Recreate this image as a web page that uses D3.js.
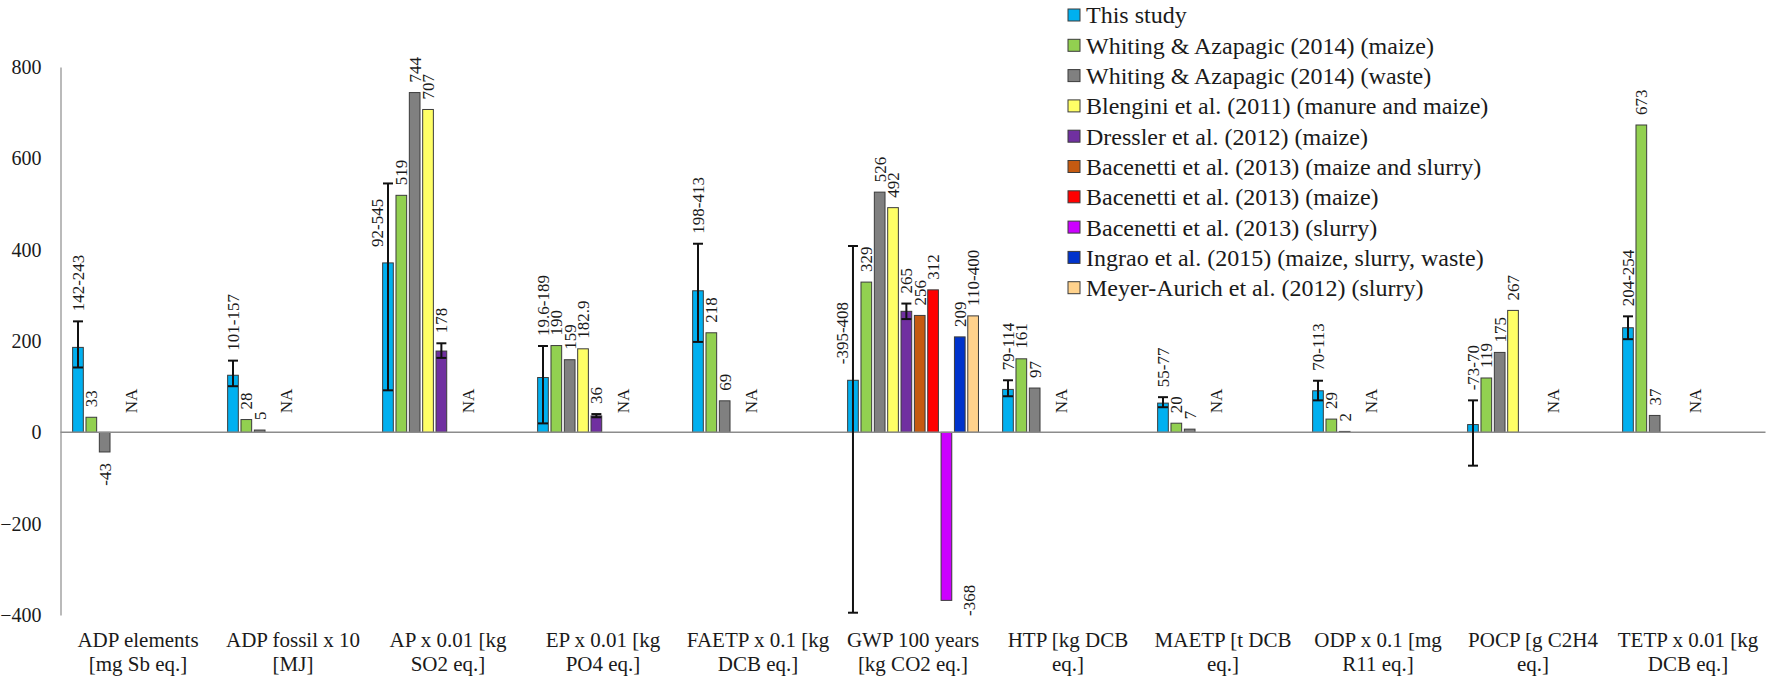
<!DOCTYPE html>
<html>
<head>
<meta charset="utf-8">
<script src="https://cdn.jsdelivr.net/npm/d3@7"></script>
<style>
  body { margin: 0; background: #fff; }
  svg text { font-family: "Liberation Serif", "Times New Roman", "DejaVu Serif", serif; fill: #1a1a1a; }
</style>
</head>
<body>
<svg id="chart" width="1772" height="680"></svg>
<script>
// impact categories, two label lines each
var categories = [
    ['ADP elements', '[mg Sb eq.]'],
    ['ADP fossil x 10', '[MJ]'],
    ['AP x 0.01 [kg', 'SO2 eq.]'],
    ['EP x 0.01 [kg', 'PO4 eq.]'],
    ['FAETP x 0.1 [kg', 'DCB eq.]'],
    ['GWP 100 years', '[kg CO2 eq.]'],
    ['HTP [kg DCB', 'eq.]'],
    ['MAETP [t DCB', 'eq.]'],
    ['ODP x 0.1 [mg', 'R11 eq.]'],
    ['POCP [g C2H4', 'eq.]'],
    ['TETP x 0.01 [kg', 'DCB eq.]']
];

var seriesNames = [
    'This study',
    'Whiting & Azapagic (2014) (maize)',
    'Whiting & Azapagic (2014) (waste)',
    'Blengini et al. (2011) (manure and maize)',
    'Dressler et al. (2012) (maize)',
    'Bacenetti et al. (2013) (maize and slurry)',
    'Bacenetti et al. (2013) (maize)',
    'Bacenetti et al. (2013) (slurry)',
    'Ingrao et al. (2015) (maize, slurry, waste)',
    'Meyer-Aurich et al. (2012) (slurry)'
];
var seriesColors = ['#00b0f0', '#92d050', '#808080', '#ffff66', '#7030a0',
    '#c55a11', '#ff0000', '#cc00ff', '#0033cc', '#ffd28c'];

var thisStudy      = [186, 125, 371, 120, 310, 114, 94, 64, 91, 17, 229];
var thisStudyLow   = [142, 101, 92, 19.6, 198, -395, 79, 55, 70, -73, 204];
var thisStudyHigh  = [243, 157, 545, 189, 413, 408, 114, 77, 113, 70, 254];
var whitingMaize   = [33, 28, 519, 190, 218, 329, 161, 20, 29, 119, 673];
var whitingWaste   = [-43, 5, 744, 159, 69, 526, 97, 7, 2, 175, 37];
var blengini       = [null, null, 707, 182.9, null, 492, null, null, null, 267, null];
var dressler       = [null, null, 178, 36, null, 265, null, null, null, null, null];
var dresslerLow    = [null, null, 163, 33, null, 248, null, null, null, null, null];
var dresslerHigh   = [null, null, 195, 40, null, 282, null, null, null, null, null];
var bacenettiMS    = [null, null, null, null, null, 256, null, null, null, null, null];
var bacenettiM     = [null, null, null, null, null, 312, null, null, null, null, null];
var bacenettiS     = [null, null, null, null, null, -368, null, null, null, null, null];
var ingrao         = [null, null, null, null, null, 209, null, null, null, null, null];
var meyerAurich    = [null, null, null, null, null, 255, null, null, null, null, null];
var meyerAurichTxt = [null, null, null, null, null, '110-400', null, null, null, null, null];
// series slot that carries the "NA" note in each category
var naSeries       = [4, 4, 6, 6, 4, null, 4, 4, 4, 6, 5];

var yTicks = [-400, -200, 0, 200, 400, 600, 800];

var values = [thisStudy, whitingMaize, whitingWaste, blengini, dressler,
    bacenettiMS, bacenettiM, bacenettiS, ingrao, meyerAurich];
var errLow = [thisStudyLow, null, null, null, dresslerLow, null, null, null, null, null];
var errHigh = [thisStudyHigh, null, null, null, dresslerHigh, null, null, null, null, null];
var labelTxt = [null, null, null, null, null, null, null, null, null, meyerAurichTxt];

var font = '"Liberation Serif", "Times New Roman", "DejaVu Serif", serif';
var svg = d3.select('#chart').attr('font-family', font);

var x = d3.scaleBand()
    .domain(d3.range(categories.length))
    .range([60.5, 1765.5]);
var xs = d3.scaleBand()
    .domain(d3.range(seriesNames.length))
    .range([10.8, 144.3])
    .paddingInner(0.2)
    .paddingOuter(0.1);
var y = d3.scaleLinear().domain([-400, 800]).range([615, 67]);

// y axis
var yAxis = svg.append('g')
    .attr('transform', 'translate(60.5,0)')
    .call(d3.axisLeft(y).tickValues(yTicks).tickSize(0).tickPadding(19));
yAxis.attr('font-family', font);
yAxis.select('.domain').attr('stroke', '#8c8c8c').attr('stroke-width', 1.2);
yAxis.selectAll('text')
    .attr('font-family', font)
    .style('font-size', '20px')
    .attr('fill', '#1a1a1a');

// category labels
var xAxis = svg.append('g');
xAxis.selectAll('text')
    .data(categories)
    .join('text')
    .attr('x', (d, i) => x(i) + x.bandwidth() / 2)
    .attr('y', 647)
    .attr('text-anchor', 'middle')
    .attr('font-family', font)
    .style('font-size', '21px')
    .each(function(d) {
        var t = d3.select(this);
        t.append('tspan').attr('x', t.attr('x')).text(d[0]);
        t.append('tspan').attr('x', t.attr('x')).attr('dy', 24).text(d[1]);
    });

// flatten bars
var bars = [];
values.forEach(function(vals, s) {
    vals.forEach(function(v, c) {
        if (v === null) return;
        var b = { s: s, c: c, v: v };
        if (errLow[s] && errLow[s][c] !== null) {
            b.lo = errLow[s][c];
            b.hi = errHigh[s][c];
        }
        if (s === 0) b.txt = b.lo + '-' + b.hi;
        else if (labelTxt[s] && labelTxt[s][c]) b.txt = labelTxt[s][c];
        else b.txt = String(v);
        b.cx = x(c) + xs(s) + xs.bandwidth() / 2;
        bars.push(b);
    });
});

svg.append('g').selectAll('rect')
    .data(bars)
    .join('rect')
    .attr('x', d => x(d.c) + xs(d.s))
    .attr('width', xs.bandwidth())
    .attr('y', d => y(Math.max(0, d.v)))
    .attr('height', d => Math.abs(y(d.v) - y(0)))
    .attr('fill', d => seriesColors[d.s])
    .attr('stroke', '#3b3b3b')
    .attr('stroke-width', 1);

// zero line
svg.append('line')
    .attr('x1', 60.5).attr('x2', 1765.5)
    .attr('y1', y(0)).attr('y2', y(0))
    .attr('stroke', '#8c8c8c').attr('stroke-width', 1.5);

// error bars
var eb = svg.append('g').attr('stroke', '#111').attr('stroke-width', 2);
bars.filter(d => d.lo !== undefined).forEach(function(d) {
    eb.append('line').attr('x1', d.cx).attr('x2', d.cx).attr('y1', y(d.lo)).attr('y2', y(d.hi));
    [d.lo, d.hi].forEach(function(e) {
        eb.append('line').attr('x1', d.cx - 5).attr('x2', d.cx + 5).attr('y1', y(e)).attr('y2', y(e));
    });
});

// data labels
var labels = svg.append('g').attr('font-family', font).style('font-size', '17px');
bars.forEach(function(d) {
    var t = labels.append('text').attr('dy', '0.35em').text(d.txt);
    var px = d.cx, py, anchor;
    if (d.v < 0 && y(d.v) + 45 > y(-400)) {
        // too close to the bottom: set beside the bar end
        px = d.cx + 23; py = y(d.v); anchor = 'middle';
    } else if (d.v < 0) {
        py = y(d.v) + 11; anchor = 'end';
    } else if (d.hi !== undefined && d.hi - d.v > 150) {
        // long whisker: sit next to it, above the bar
        px = d.cx - 11; py = y(d.v) - 16; anchor = 'start';
    } else {
        var top = d.hi !== undefined ? Math.max(d.v, d.hi) : d.v;
        py = y(top) - 10; anchor = 'start';
    }
    t.attr('text-anchor', anchor)
        .attr('transform', 'translate(' + px + ',' + py + ') rotate(-90)');
});

// NA notes
categories.forEach(function(cat, c) {
    if (naSeries[c] === null) return;
    var px = x(c) + xs(naSeries[c]) + xs.bandwidth() / 2;
    labels.append('text')
        .attr('dy', '0.35em')
        .attr('text-anchor', 'start')
        .attr('transform', 'translate(' + px + ',' + (y(0) - 19) + ') rotate(-90)')
        .text('NA');
});

// legend
var legend = svg.append('g').attr('transform', 'translate(1068,15)');
var item = legend.selectAll('g')
    .data(seriesNames)
    .join('g')
    .attr('transform', (d, i) => 'translate(0,' + (i * 30.3) + ')');
item.append('rect')
    .attr('x', 0).attr('y', -6).attr('width', 12).attr('height', 12)
    .attr('fill', (d, i) => seriesColors[i])
    .attr('stroke', '#3b3b3b').attr('stroke-width', 1);
item.append('text')
    .attr('x', 18).attr('dy', '0.35em')
    .attr('font-family', font)
    .style('font-size', '24px')
    .text(d => d);
</script>
</body>
</html>
